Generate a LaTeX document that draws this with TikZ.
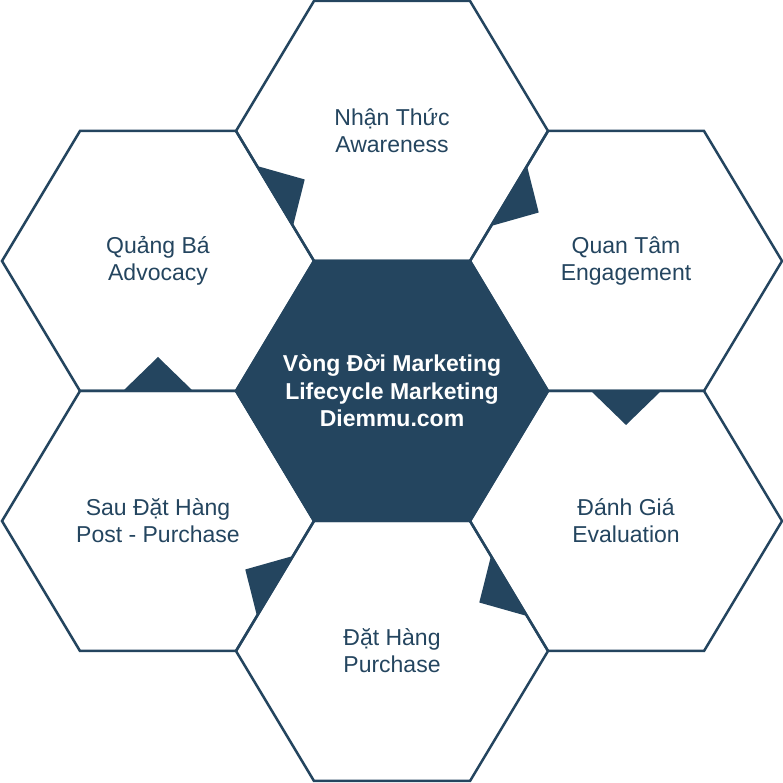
\documentclass[tikz,border=0pt]{standalone}
\usepackage{fontspec}
\setmainfont{Liberation Sans}
\usetikzlibrary{calc}
\definecolor{lifeblue}{HTML}{24455F}
\tikzset{
  cell/.style={
    draw=lifeblue,
    line width=2.5pt
  },
  corecell/.style={
    cell,
    fill=lifeblue
  },
  celltext/.style={
    text=lifeblue,
    align=center,
    font=\fontsize{23}{27}\selectfont
  },
  coretext/.style={
    celltext,
    text=white,
    font=\fontsize{23}{27.5}\selectfont\bfseries
  },
  tab/.style={
    fill=lifeblue
  }
}
% small arrow tab on the shared edge #1--#2, pointing into cell #3
\newcommand\cycletab[3]{%
  \coordinate (tabmid) at ($(#1)!0.5!(#2)$);
  \fill[tab] ($(tabmid)!35pt!(#1)$) -- ($(tabmid)!34pt!(#3)$) -- ($(tabmid)!35pt!(#2)$) -- cycle;
}

\begin{document}
\begin{tikzpicture}[x=1pt, y=1pt]
    \useasboundingbox (0,0) rectangle (783,783);

    \coordinate (core) at (392,392);
    \coordinate (aware) at (392,652);
    \coordinate (engage) at (626,522);
    \coordinate (eval) at (626,262);
    \coordinate (buy) at (392,132);
    \coordinate (post) at (158,262);
    \coordinate (advo) at (158,522);

    \foreach \c/\s in {core/corecell, aware/cell, engage/cell, eval/cell, buy/cell, post/cell, advo/cell}
      \draw[\s] (\c) ++(156,0) coordinate (\c-e) -- ++(-78,130) coordinate (\c-ne)
        -- ++(-156,0) coordinate (\c-nw) -- ++(-78,-130) coordinate (\c-w)
        -- ++(78,-130) coordinate (\c-sw) -- ++(156,0) coordinate (\c-se) -- cycle;

    \node[coretext] (core-txt) at (core) {Vòng Đời Marketing\\Lifecycle Marketing\\Diemmu.com};
    \node[celltext] (aware-txt) at (aware) {Nhận Thức\\Awareness};
    \node[celltext] (engage-txt) at (engage) {Quan Tâm\\Engagement};
    \node[celltext] (eval-txt) at (eval) {Đánh Giá\\Evaluation};
    \node[celltext] (buy-txt) at (buy) {Đặt Hàng\\Purchase};
    \node[celltext] (post-txt) at (post) {Sau Đặt Hàng\\Post - Purchase};
    \node[celltext] (advo-txt) at (advo) {Quảng Bá\\Advocacy};

    \cycletab{aware-w}{aware-sw}{aware}
    \cycletab{aware-e}{aware-se}{engage}
    \cycletab{engage-sw}{engage-se}{eval}
    \cycletab{buy-e}{buy-ne}{buy}
    \cycletab{buy-w}{buy-nw}{post}
    \cycletab{post-nw}{post-ne}{advo}
\end{tikzpicture}
\end{document}
